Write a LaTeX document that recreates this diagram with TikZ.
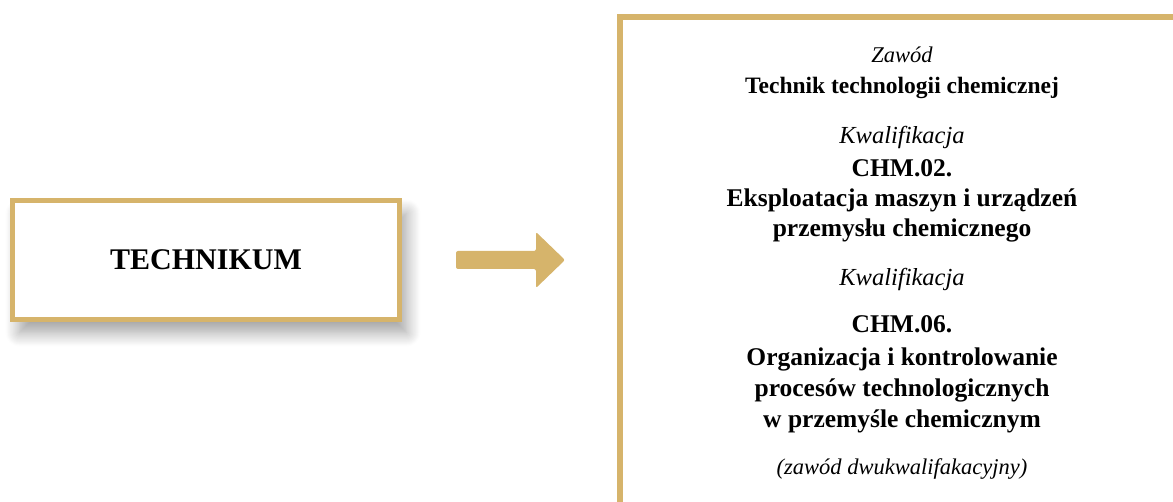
\documentclass[tikz,border=0pt]{standalone}
\usepackage{fontspec}
\setmainfont{Liberation Serif}
\usetikzlibrary{shadows.blur}
\definecolor{gold}{HTML}{D6B46B}
\tikzset{
  goldframe/.style={draw=gold, line width=5.5pt},
  bl/.style={font=\bfseries\fontsize{25.5}{28}\selectfont, anchor=base, inner sep=0pt},
  blsmall/.style={font=\bfseries\fontsize{23.5}{26}\selectfont, anchor=base, inner sep=0pt},
  it/.style={font=\itshape\fontsize{24.5}{28}\selectfont, anchor=base, inner sep=0pt},
  itsmall/.style={font=\itshape\fontsize{22.5}{26}\selectfont, anchor=base, inner sep=0pt},
}
\begin{document}
\begin{tikzpicture}[x=1pt,y=-1pt]
\useasboundingbox (0,0) rectangle (1173,502);
% left box
\node[goldframe, fill=white, minimum width=387pt, minimum height=119pt, inner sep=0pt,
  blur shadow={shadow xshift=7pt, shadow yshift=-13pt, shadow blur radius=14pt, shadow blur steps=14, shadow opacity=38},
  font=\bfseries\fontsize{30}{33}\selectfont] (tech) at (206,260) {TECHNIKUM};
% right panel (extends past the right and bottom edges)
\node[goldframe, minimum width=700pt, minimum height=600pt, anchor=north west, inner sep=0pt] (panel) at (617,14.5) {};
% arrow
\fill[gold, rounded corners=2pt] (456,251) -- (536,251) -- (536,232) -- (565,260) -- (536,288) -- (536,269) -- (456,269) -- cycle;
% texts
\def\cx{902}
\node[itsmall] (t1) at (\cx,63) {Zawód};
\node[blsmall] (t2) at (\cx,94) {Technik technologii chemicznej};
\node[it] (t3) at (\cx,144) {Kwalifikacja};
\node[bl] (t4) at (\cx,177) {CHM.02.};
\node[bl] (t5) at (\cx,207) {Eksploatacja maszyn i urządzeń};
\node[bl] (t6) at (\cx,237) {przemysłu chemicznego};
\node[it] (t7) at (\cx,286) {Kwalifikacja};
\node[bl] (t8) at (\cx,333) {CHM.06.};
\node[bl] (t9) at (\cx,366) {Organizacja i kontrolowanie};
\node[bl] (t10) at (\cx,397) {procesów technologicznych};
\node[bl] (t11) at (\cx,428) {w przemyśle chemicznym};
\node[itsmall] (t12) at (\cx,475) {(zawód dwukwalifakacyjny)};
\end{tikzpicture}
\end{document}
